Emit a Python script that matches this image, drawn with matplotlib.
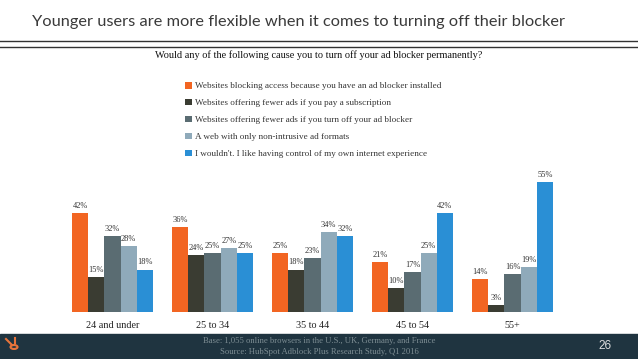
import numpy as np
import matplotlib
matplotlib.use('Agg')
import matplotlib.pyplot as plt
from matplotlib.patches import Rectangle, Circle

# Chart data
age_groups = ['24 and under', '25 to 34', '35 to 44', '45 to 54', '55+']
reasons = [
    'Websites blocking access because you have an ad blocker installed',
    'Websites offering fewer ads if you pay a subscription',
    'Websites offering fewer ads if you turn off your ad blocker',
    'A web with only non-intrusive ad formats',
    "I wouldn't. I like having control of my own internet experience",
]
blocking_access = [42, 36, 25, 21, 14]
pay_subscription = [15, 24, 18, 10, 3]
turn_off_blocker = [32, 25, 23, 17, 16]
non_intrusive = [28, 27, 34, 25, 19]
wouldnt = [18, 25, 32, 42, 55]
colors = ['#F26522', '#3A3C32', '#5A6C72', '#8FAABA', '#2A8FD5']

series = [blocking_access, pay_subscription, turn_off_blocker, non_intrusive, wouldnt]

W, H = 638, 359
fig = plt.figure(figsize=(W / 100, H / 100), dpi=100)
serif = 'Liberation Serif'

# Bar axes: 1 x-unit = 100 px, baseline at y=312 px from top
base_px = 312
px_per_pct = 2.36
ax_h = 200
ax = fig.add_axes([0, (H - base_px) / H, 1, ax_h / H])
ax.set_xlim(-1.125, W / 100 - 1.125)
ax.set_ylim(0, ax_h / px_per_pct)
ax.axis('off')

bw = 0.162
x = np.arange(len(age_groups))
handles = []
for i, (vals, col) in enumerate(zip(series, colors)):
    pos = x + (i - 2) * bw
    b = ax.bar(pos, vals, width=bw, color=col, label=reasons[i])
    handles.append(b)
    for p, v in zip(pos, vals):
        ax.text(p, v + 1.3, f'{v}%', ha='center', va='bottom',
                fontsize=6, color='#333333', family=serif)

# group labels
for xi, g in zip(x, age_groups):
    ax.text(xi, -4, g, ha='center', va='top', fontsize=7.3,
            color='#222222', family=serif)

fig.legend(handles=handles, labels=reasons, loc='upper left',
           bbox_to_anchor=(185 / W, 1 - 82 / H), frameon=False,
           prop={'family': serif, 'size': 6.6}, handlelength=0.72,
           handleheight=0.72, handletextpad=0.35, labelspacing=0.92,
           borderaxespad=0, borderpad=0, labelcolor='#333333')

# Title and rules
fig.text(299 / W, 1 - 22 / H, 'Younger users are more flexible when it comes to turning off their blocker',
         ha='center', va='center', fontsize=11.8, color='#3a3a3a', family='Lato')
for yy in (41, 47):
    fig.add_artist(plt.Line2D([0, 1], [1 - yy / H, 1 - yy / H], color='#333333', lw=1.0))
fig.text(0.5, 1 - 55 / H, 'Would any of the following cause you to turn off your ad blocker permanently?',
         ha='center', va='center', fontsize=7.4, color='#111111', family=serif)

# Footer band
fig.add_artist(Rectangle((0, 0), 1, (H - 334) / H, transform=fig.transFigure,
                         color='#1F3440', zorder=0))
fig.text(0.5, 1 - 341 / H, 'Base: 1,055 online browsers in the U.S., UK, Germany, and France',
         ha='center', va='center', fontsize=6.2, color='#7D8D93', family=serif)
fig.text(0.5, 1 - 352 / H, 'Source: HubSpot Adblock Plus Research Study, Q1 2016',
         ha='center', va='center', fontsize=6.2, color='#7D8D93', family=serif)
fig.text(1 - 33 / W, 1 - 346 / H, '26', ha='center', va='center',
         fontsize=8.5, color='#DDDDDD', family='Liberation Sans')

# small hubspot-ish logo
lx, ly = 14 / W, 1 - 347 / H
fig.add_artist(Circle((lx, ly), 3.5 / W, transform=fig.transFigure, fill=False,
                      ec='#E8743B', lw=1.5))
fig.add_artist(plt.Line2D([lx - 8 / W, lx - 2 / W], [ly + 8 / H, ly + 2 / H],
                          color='#E8743B', lw=1.5))
fig.add_artist(plt.Line2D([lx + 1 / W, lx + 1 / W], [ly + 4 / H, ly + 9 / H],
                          color='#E8743B', lw=1.5))

fig.savefig('out.png', dpi=100)
